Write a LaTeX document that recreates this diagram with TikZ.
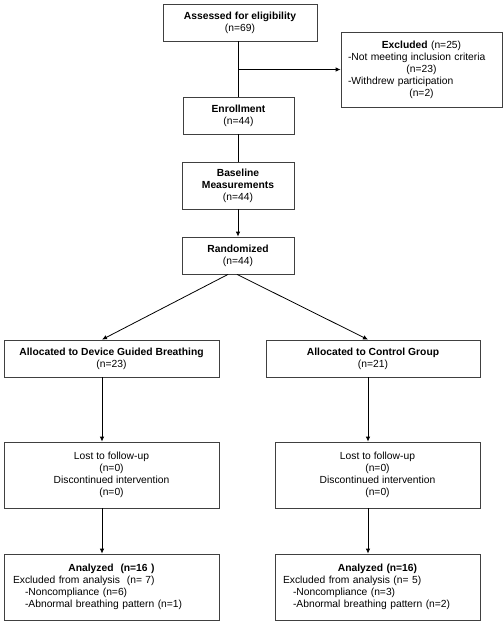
\documentclass[tikz,border=0pt]{standalone}
\usepackage{fontspec}
\setmainfont{Liberation Sans}
\usetikzlibrary{arrows.meta}
\def \leftcol {102}
\def \rightcol {368}
\newcommand{\midline}[1]{\mbox{}\hfill#1\hfill\mbox{}}
\tikzstyle{box}=[draw=black!75, line width=0.8pt, inner sep=0pt, align=center, font=\fontsize{10.3}{12}\selectfont]
\tikzstyle{lbox}=[box, align=left]
\tikzstyle{arr}=[-{Latex[length=5pt, width=4.5pt]}]

\begin{document}
\begin{tikzpicture}[x=1pt, y=-1pt, line width=0.8pt]
\useasboundingbox (0, 0) rectangle (504, 625);

% top column
\node[box, minimum width=154, minimum height=37] (assess) at (240, 22.5) {\textbf{Assessed for eligibility}\\(n=69)};
\node[lbox, minimum height=75, inner xsep=7, text width=147] (excl) at (421.5, 69.5) {\midline{\textbf{Excluded} (n=25)}\\-Not meeting inclusion criteria\\\midline{(n=23)}\\-Withdrew participation\\\midline{(n=2)}};
\node[box, minimum width=111, minimum height=37] (enrol) at (238.5, 115.5) {\textbf{Enrollment}\\(n=44)};
\node[box, minimum width=112, minimum height=47] (base) at (238, 185.5) {\textbf{Baseline}\\\textbf{Measurements}\\(n=44)};
\node[box, minimum width=112, minimum height=37] (rand) at (238, 255.5) {\textbf{Randomized}\\(n=44)};

% two arms
\node[box, minimum width=215, minimum height=37] (allocL) at (111.5, 358.5) {\textbf{Allocated to Device Guided Breathing}\\(n=23)};
\node[box, minimum width=214, minimum height=37] (allocR) at (373, 358.5) {\textbf{Allocated to Control Group}\\(n=21)};

\foreach \s/\x/\w in {L/111.5/215, R/377.5/205}
    \node[box, minimum width=\w, minimum height=66] (lost\s) at (\x, 475) {Lost to follow-up\\(n=0)\\Discontinued intervention\\(n=0)};

\node[lbox, minimum height=66, inner xsep=9, text width=197] (anaL) at (111.5, 587) {\midline{\textbf{Analyzed\ \ (n=16 )}}\\Excluded from analysis\ \ (n= 7)\\\hspace*{12pt}-Noncompliance (n=6)\\\hspace*{12pt}-Abnormal breathing pattern (n=1)\\[4pt]};
\node[lbox, minimum height=66, inner xsep=8, text width=189] (anaR) at (377.5, 587) {\midline{\textbf{Analyzed (n=16)}}\\Excluded from analysis (n= 5)\\\hspace*{10pt}-Noncompliance (n=3)\\\hspace*{10pt}-Abnormal breathing pattern (n=2)\\[4pt]};

\coordinate (colL) at (\leftcol, 0);
\coordinate (colR) at (\rightcol, 0);

% connectors
\draw (enrol.north |- assess.south) -- (enrol.north);
\draw[arr] (enrol.north |- excl.west) -- (excl.west);
\draw (enrol.south) -- (enrol.south |- base.north);
\draw[arr] (base.south) -- (rand.north);
\draw[arr] ([xshift=-10]rand.south) -- (allocL.north -| colL);
\draw[arr] ([xshift=-1]rand.south) -- (allocR.north -| colR);

\foreach \s/\c in {L/colL, R/colR} {
    \draw[arr] (alloc\s.south -| \c) -- (lost\s.north -| \c);
    \draw[arr] (lost\s.south -| \c) -- (ana\s.north -| \c);
}

\end{tikzpicture}
\end{document}
